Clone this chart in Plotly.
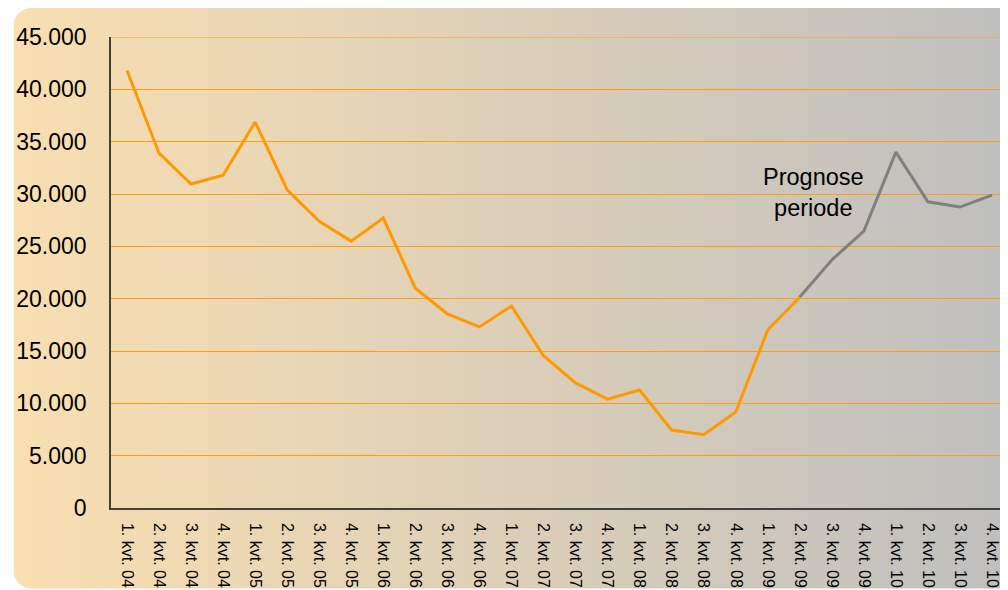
import base64
import plotly.graph_objects as go

# ---- data ----
quarters = [
    "1. kvt. 04", "2. kvt. 04", "3. kvt. 04", "4. kvt. 04",
    "1. kvt. 05", "2. kvt. 05", "3. kvt. 05", "4. kvt. 05",
    "1. kvt. 06", "2. kvt. 06", "3. kvt. 06", "4. kvt. 06",
    "1. kvt. 07", "2. kvt. 07", "3. kvt. 07", "4. kvt. 07",
    "1. kvt. 08", "2. kvt. 08", "3. kvt. 08", "4. kvt. 08",
    "1. kvt. 09", "2. kvt. 09", "3. kvt. 09", "4. kvt. 09",
    "1. kvt. 10", "2. kvt. 10", "3. kvt. 10", "4. kvt. 10",
]
actual_values = [
    41800, 33900, 30950, 31800,
    36870, 30400, 27400, 25500,
    27700, 21000, 18550, 17300,
    19300, 14550, 11950, 10400,
    11270, 7450, 7000, 9170,
    17000, 20150,
]
forecast_values = [20150, 23700, 26450, 34000, 29250, 28750, 29900]
forecast_quarters = quarters[21:]
y_ticks = [0, 5000, 10000, 15000, 20000, 25000, 30000, 35000, 40000, 45000]
annotation_text = "Prognose<br>periode"

# ---- figure geometry (page has an 8px body margin) ----
W, H = 1008, 590
ML, MR, MT, MB = 98, 8, 29, 90
PW, PH = W - ML - MR, H - MT - MB
GRID = "#FF9F10"

svg = f'''<svg xmlns="http://www.w3.org/2000/svg" width="{W}" height="{H}" viewBox="0 0 {W} {H}" preserveAspectRatio="none">
<defs><linearGradient id="g" gradientUnits="userSpaceOnUse" x1="0" y1="0" x2="1000" y2="0">
<stop offset="0" stop-color="#F9DFB1"/>
<stop offset="1" stop-color="#BFBFBF"/>
</linearGradient></defs>
<rect x="0" y="0" width="1040" height="580.5" rx="18" ry="18" fill="url(#g)"/>
</svg>'''
src = "data:image/svg+xml;base64," + base64.b64encode(svg.encode()).decode()

fig = go.Figure()
fig.add_trace(go.Scatter(
    x=quarters[:len(actual_values)], y=actual_values, mode="lines",
    line=dict(color="#FF9900", width=3), showlegend=False, hoverinfo="x+y",
))
fig.add_trace(go.Scatter(
    x=forecast_quarters, y=forecast_values, mode="lines",
    line=dict(color="#808080", width=3), showlegend=False, hoverinfo="x+y",
))

# top gridline (plotly drops the grid line lying on the range edge)
fig.add_shape(type="line", xref="paper", yref="y", x0=0, x1=1,
              y0=y_ticks[-1], y1=y_ticks[-1], layer="below",
              line=dict(color=GRID, width=1))

fig.add_annotation(
    text=annotation_text, xref="paper", yref="paper",
    x=(804 - ML) / PW, y=(500 - 184) / PH, showarrow=False,
    font=dict(family="Liberation Sans, Arial", size=23.5, color="#000000"),
    align="center", xanchor="center", yanchor="middle",
)

fig.update_layout(
    width=W, height=H,
    margin=dict(l=ML, r=MR, t=MT, b=MB),
    paper_bgcolor="#FFFFFF",
    plot_bgcolor="rgba(0,0,0,0)",
    separators=",.",
    font=dict(family="Liberation Sans, Arial", color="#000000"),
    images=[dict(
        source=src, xref="paper", yref="paper",
        x=-ML / PW, y=1 + MT / PH, sizex=W / PW, sizey=H / PH,
        xanchor="left", yanchor="top", sizing="stretch", layer="below",
    )],
    xaxis=dict(
        type="category", categoryorder="array", categoryarray=quarters,
        range=[-0.5, len(quarters) - 0.5],
        showgrid=False, zeroline=False,
        showline=True, linecolor="#404040", linewidth=1.5,
        tickangle=90, tickfont=dict(size=16),
        ticks="outside", ticklen=10, tickcolor="rgba(0,0,0,0)",
    ),
    yaxis=dict(
        range=[0, 45000], tickvals=y_ticks, tickformat=",d",
        showgrid=True, gridcolor=GRID, gridwidth=1,
        zeroline=False,
        showline=True, linecolor="#404040", linewidth=1.5,
        tickfont=dict(size=23),
        ticks="outside", ticklen=18, tickcolor="rgba(0,0,0,0)",
    ),
)

fig.write_html("out.html")
